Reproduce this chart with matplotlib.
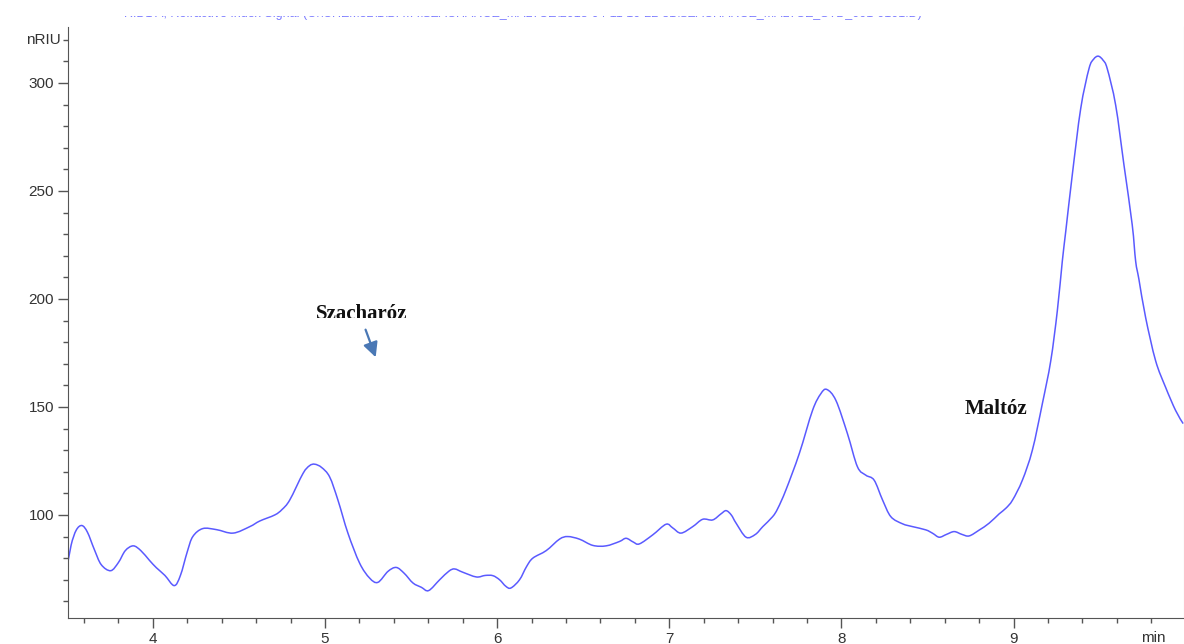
import matplotlib
matplotlib.use("Agg")
import matplotlib.pyplot as plt
import numpy as np
from matplotlib.path import Path
from matplotlib.patches import PathPatch
from matplotlib.transforms import Bbox, TransformedBbox

# retention time (min) and RI detector signal (nRIU)
time_min = [
    3.500, 3.525, 3.555, 3.588, 3.620, 3.660, 3.700, 3.755, 3.800, 3.840,
    3.886, 3.930, 3.980, 4.020, 4.070, 4.124, 4.160, 4.200, 4.232, 4.290,
    4.370, 4.466, 4.563, 4.621, 4.708, 4.750, 4.795, 4.872, 4.910, 4.940,
    4.980, 5.027, 5.075, 5.133, 5.201, 5.259, 5.307, 5.366, 5.414, 5.460,
    5.511, 5.560, 5.602, 5.666, 5.720, 5.753, 5.800, 5.879, 5.930, 5.975,
    6.014, 6.050, 6.080, 6.130, 6.170, 6.207, 6.285, 6.362, 6.410, 6.478,
    6.556, 6.633, 6.710, 6.749, 6.790, 6.826, 6.904, 6.981, 7.020, 7.068,
    7.136, 7.194, 7.252, 7.300, 7.330, 7.360, 7.388, 7.446, 7.500, 7.543,
    7.600, 7.630, 7.677, 7.755, 7.832, 7.880, 7.915, 7.968, 8.035, 8.093,
    8.142, 8.190, 8.239, 8.287, 8.355, 8.413, 8.490, 8.530, 8.568, 8.610,
    8.655, 8.700, 8.742, 8.800, 8.858, 8.916, 8.955, 8.994, 9.051, 9.109,
    9.167, 9.216, 9.254, 9.283, 9.303, 9.341, 9.390, 9.438, 9.465, 9.492,
    9.520, 9.544, 9.593, 9.641, 9.689, 9.709, 9.728, 9.767, 9.825, 9.883,
    9.941, 9.985,
]
signal = [
    74.7, 86.0, 93.0, 95.1, 92.0, 84.0, 77.0, 74.2, 78.0, 83.5,
    85.7, 83.5, 79.0, 75.6, 72.0, 67.3, 72.0, 83.0, 90.0, 93.7,
    93.2, 91.6, 94.6, 97.2, 100.0, 102.5, 106.9, 119.2, 122.8, 123.5,
    122.0, 117.6, 106.9, 91.6, 77.7, 70.8, 68.8, 73.9, 75.7, 73.0,
    68.5, 66.5, 65.0, 70.0, 74.0, 75.0, 73.5, 71.3, 72.0, 71.9,
    70.0, 67.0, 66.2, 70.0, 76.0, 80.0, 83.5, 88.8, 90.0, 88.8,
    85.9, 85.7, 87.7, 89.2, 87.5, 86.6, 90.8, 95.7, 94.0, 91.6,
    94.6, 98.0, 97.7, 100.5, 102.0, 100.0, 96.2, 89.7, 91.0, 94.6,
    99.2, 103.0, 111.5, 128.4, 148.4, 156.1, 158.1, 153.0, 137.6, 122.3,
    118.4, 116.1, 106.9, 99.2, 95.9, 94.6, 93.1, 91.5, 89.7, 91.0,
    92.3, 91.0, 90.3, 93.0, 96.2, 100.5, 103.1, 106.9, 116.1, 130.0,
    151.5, 171.4, 194.5, 217.5, 231.3, 257.5, 288.2, 306.6, 311.0, 312.4,
    310.5, 306.6, 289.7, 262.1, 234.4, 217.5, 209.1, 191.4, 171.4, 159.1,
    148.4, 142.3,
]

x_ticks = [4, 5, 6, 7, 8, 9]
y_ticks = [100, 150, 200, 250, 300]


def smooth_path(xs, ys):
    # cubic bezier through every sample (catmull-rom tangents)
    p = np.column_stack([xs, ys])
    ext = np.vstack([p[0], p, p[-1]])
    verts = [p[0]]
    codes = [Path.MOVETO]
    for i in range(len(p) - 1):
        p0, p1, p2, p3 = ext[i], ext[i + 1], ext[i + 2], ext[i + 3]
        verts += [p1 + (p2 - p0) / 6, p2 - (p3 - p1) / 6, p2]
        codes += [Path.CURVE4] * 3
    return Path(verts, codes)


plt.rcParams["font.family"] = ["Liberation Sans", "DejaVu Sans"]

W, H = 1184, 644
fig = plt.figure(figsize=(W / 100, H / 100), dpi=100)
ax = fig.add_axes([68 / W, 1 - 618 / H, 1 - 68 / W - 0.5 / W, (618 - 27) / H])

ax.add_patch(PathPatch(smooth_path(time_min, signal), facecolor="none",
                       edgecolor="#5a5aff", lw=1.1))

ax.set_xlim(3.507, 9.987)
ax.set_ylim(52.3, 325.9)

ax.set_xticks(x_ticks)
ax.set_xticks([v / 10 for v in range(36, 100, 2)], minor=True)
ax.set_yticks(y_ticks)
ax.set_yticks(list(range(60, 330, 10)), minor=True)
ax.tick_params(which="major", direction="out", length=7, width=1, color="#555555",
               labelsize=11, labelcolor="#333333", pad=3)
ax.tick_params(which="minor", direction="out", length=3.6, width=1, color="#555555")

for side in ("left", "bottom"):
    ax.spines[side].set_color("#555555")
ax.spines["top"].set_visible(False)
ax.spines["right"].set_color("#cccccc")

# axis units
ax.text(-0.0065, 320, "nRIU", transform=ax.get_yaxis_transform(), ha="right", va="center",
        fontsize=11, color="#333333")
ax.text(9.74, -0.0225, "min", transform=ax.get_xaxis_transform(), ha="left", va="top",
        fontsize=11, color="#333333")

# peak labels
clip = TransformedBbox(Bbox.from_extents(0, 1 - 318 / H, 1, 1), fig.transFigure)
t = ax.text(5.213, 190.7, "Szacharóz", family="Liberation Serif", weight="bold",
            fontsize=15, ha="center", va="baseline", color="#111111", clip_on=True)
t.set_clip_box(clip)
ax.annotate("", xy=(5.300, 171.8), xytext=(5.230, 187.0),
            arrowprops=dict(arrowstyle="-|>", color="#4a78b5", lw=1.6, mutation_scale=22))
ax.text(8.713, 146.8, "Maltóz", family="Liberation Serif", weight="bold",
        fontsize=15, ha="left", va="baseline", color="#111111")

# signal description line: only its lower edge shows under the top border
hdr = fig.add_axes([0, 1 - 20 / H, 1, 4.5 / H])
hdr.set_axis_off()
hdr.text(124 / W, 1 - 17 / H,
         "RID1 A, Refractive Index Signal (C:\\CHEM32\\1\\DATA\\SZACHAROZ_MALTOZ\\2013-04-11 10-22-31"
         "\\SZACHAROZ_MALTOZ_STD_001-0101.D)",
         transform=fig.transFigure, fontsize=9, color="#7a7aff", ha="left", va="baseline",
         clip_on=True)

fig.savefig("out.png", dpi=100)
